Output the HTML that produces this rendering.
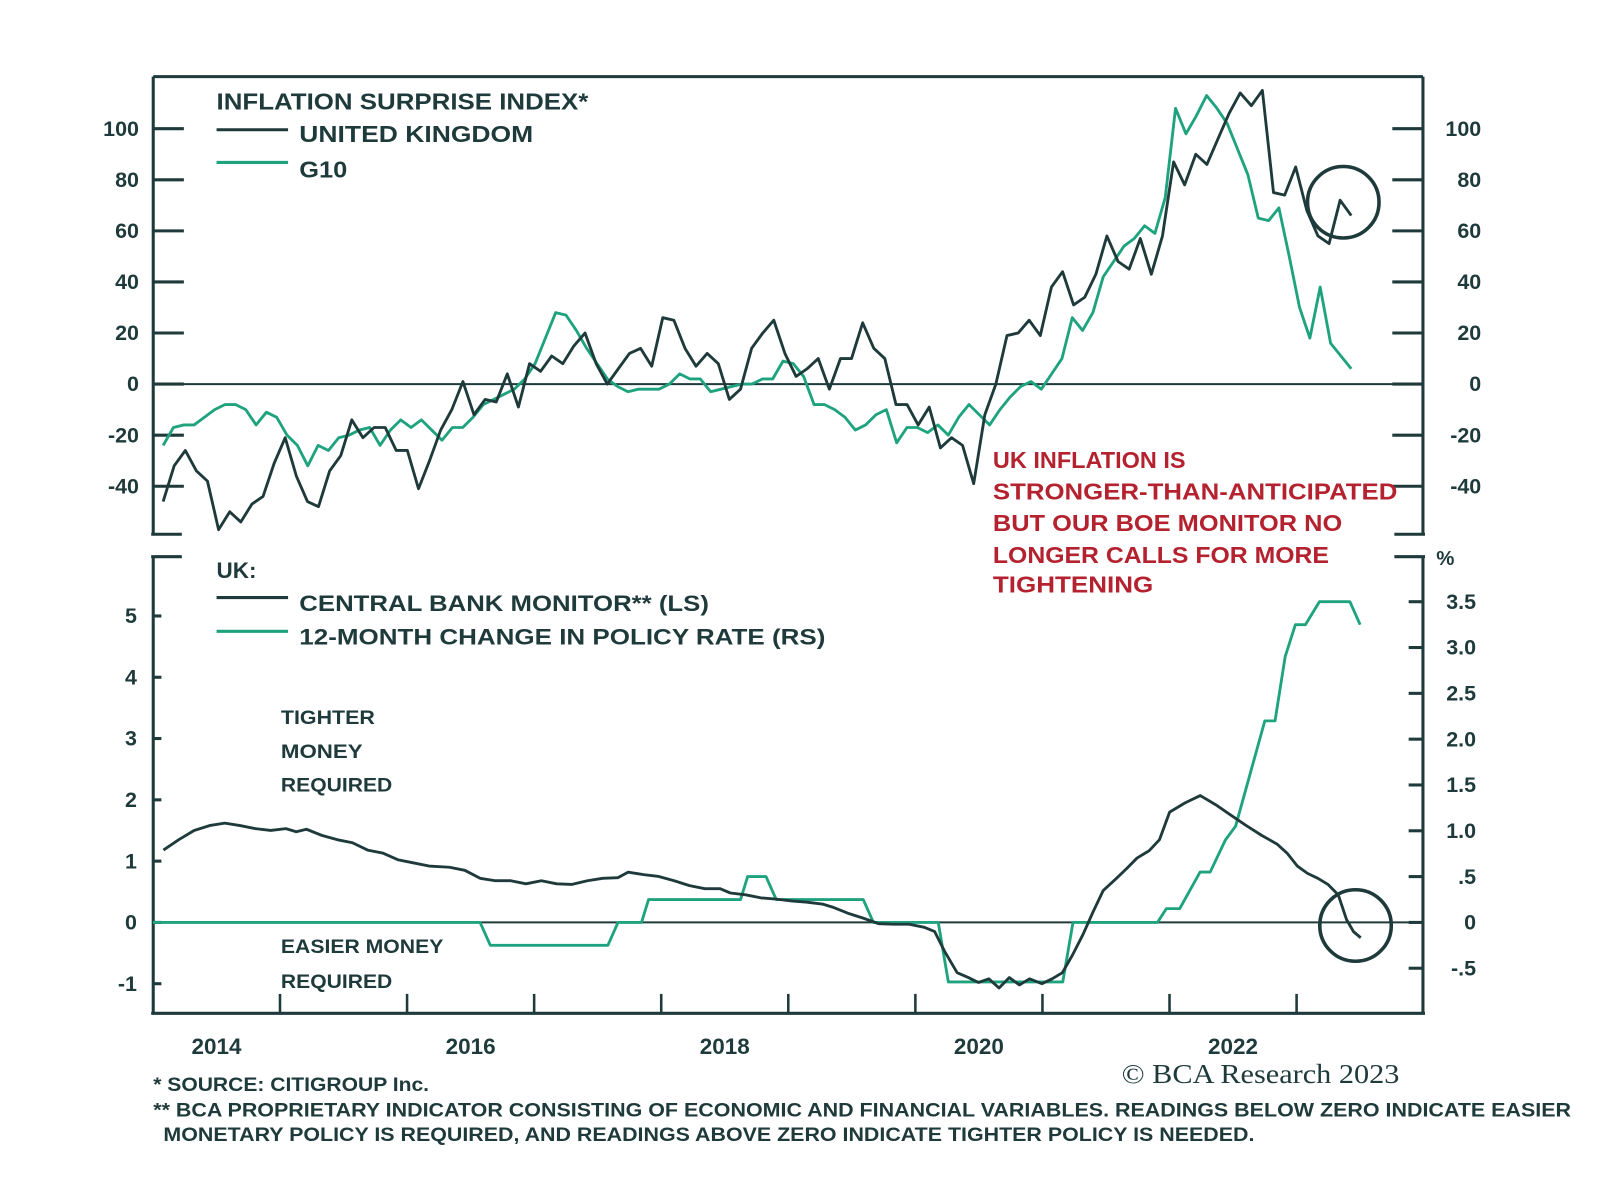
<!DOCTYPE html>
<html><head><meta charset="utf-8"><style>
html,body{margin:0;padding:0;background:#fff;width:1600px;height:1193px;overflow:hidden}
svg text{font-family:"Liberation Sans",sans-serif;font-weight:bold;fill:#1f3a3b}
</style></head><body>
<svg id="chart" width="1600" height="1193" viewBox="0 0 1600 1193" xmlns="http://www.w3.org/2000/svg">
<g id="root" transform="scale(1.0215)">
  <g stroke="#1f3a3b" stroke-width="3" fill="none">
    <line x1="150" y1="75" x2="1393" y2="75"/>
    <line x1="150" y1="75" x2="150" y2="523"/>
    <line x1="1393" y1="75" x2="1393" y2="523"/>
    <line x1="148" y1="523" x2="178" y2="523"/>
    <line x1="1365" y1="523" x2="1395" y2="523"/>
  </g>
  <g stroke="#1f3a3b" stroke-width="3" fill="none">
    <line x1="148" y1="545" x2="178" y2="545"/>
    <line x1="1365" y1="545" x2="1395" y2="545"/>
    <line x1="150" y1="545" x2="150" y2="992"/>
    <line x1="1393" y1="545" x2="1393" y2="992"/>
    <line x1="148" y1="992" x2="1395" y2="992"/>
  </g>
  <g id="axes"></g>
  <g id="series"></g>

  <text x="212" y="107" font-size="23" textLength="364" lengthAdjust="spacingAndGlyphs">INFLATION SURPRISE INDEX*</text>
  <line x1="212" y1="127" x2="282" y2="127" stroke="#1f3a3b" stroke-width="3"/>
  <text x="293" y="139" font-size="23" textLength="229" lengthAdjust="spacingAndGlyphs">UNITED KINGDOM</text>
  <line x1="212" y1="159" x2="282" y2="159" stroke="#1fa37f" stroke-width="3"/>
  <text x="293" y="174" font-size="23" textLength="47" lengthAdjust="spacingAndGlyphs">G10</text>

  <text x="212" y="566" font-size="22">UK:</text>
  <line x1="212" y1="585" x2="282" y2="585" stroke="#1f3a3b" stroke-width="3"/>
  <text x="293" y="598" font-size="22" textLength="401" lengthAdjust="spacingAndGlyphs">CENTRAL BANK MONITOR** (LS)</text>
  <line x1="212" y1="618" x2="282" y2="618" stroke="#1fa37f" stroke-width="3"/>
  <text x="293" y="631" font-size="22" textLength="515" lengthAdjust="spacingAndGlyphs">12-MONTH CHANGE IN POLICY RATE (RS)</text>

  <text font-size="19"><tspan x="275" y="709" textLength="92" lengthAdjust="spacingAndGlyphs">TIGHTER</tspan><tspan x="275" y="742" textLength="80" lengthAdjust="spacingAndGlyphs">MONEY</tspan><tspan x="275" y="775" textLength="109" lengthAdjust="spacingAndGlyphs">REQUIRED</tspan></text>
  <text font-size="19"><tspan x="275" y="933" textLength="159" lengthAdjust="spacingAndGlyphs">EASIER MONEY</tspan><tspan x="275" y="967" textLength="109" lengthAdjust="spacingAndGlyphs">REQUIRED</tspan></text>

  <text font-size="23" style="fill:#b5222f"><tspan x="972" y="458">UK INFLATION IS</tspan><tspan x="972" y="489" textLength="396" lengthAdjust="spacingAndGlyphs">STRONGER-THAN-ANTICIPATED</tspan><tspan x="972" y="520" textLength="342" lengthAdjust="spacingAndGlyphs">BUT OUR BOE MONITOR NO</tspan><tspan x="972" y="551" textLength="329" lengthAdjust="spacingAndGlyphs">LONGER CALLS FOR MORE</tspan><tspan x="972" y="580" textLength="157" lengthAdjust="spacingAndGlyphs">TIGHTENING</tspan></text>

  <text x="1406" y="553" font-size="20">%</text>

  <circle cx="1315" cy="198" r="35" fill="none" stroke="#1f3a3b" stroke-width="3.5"/>
  <circle cx="1327" cy="906" r="35" fill="none" stroke="#1f3a3b" stroke-width="3.5"/>

  <text x="150" y="1068" font-size="19" textLength="270" lengthAdjust="spacingAndGlyphs">* SOURCE: CITIGROUP Inc.</text>
  <text x="150" y="1093" font-size="19" textLength="1388" lengthAdjust="spacingAndGlyphs">** BCA PROPRIETARY INDICATOR CONSISTING OF ECONOMIC AND FINANCIAL VARIABLES. READINGS BELOW ZERO INDICATE EASIER</text>
  <text x="160" y="1117" font-size="19" textLength="1068" lengthAdjust="spacingAndGlyphs">MONETARY POLICY IS REQUIRED, AND READINGS ABOVE ZERO INDICATE TIGHTER POLICY IS NEEDED.</text>
  <text x="1098" y="1060" font-size="27" textLength="272" lengthAdjust="spacingAndGlyphs" style="font-family:'Liberation Serif',serif;font-weight:normal">© BCA Research 2023</text>
</g>
</svg>
<script>
var yearLabels = ["2014","2016","2018","2020","2022"];
var yearTicks = [2015,2016,2017,2018,2019,2020,2021,2022,2023];
var topTicks = [100,80,60,40,20,0,-20,-40];
var leftTicks = [5,4,3,2,1,0,-1];
var rightTicks = [3.5,3.0,2.5,2.0,1.5,1.0,0.5,0,-0.5];
var rightTickLabels = ["3.5","3.0","2.5","2.0","1.5","1.0",".5","0","-.5"];

var ukStart = 2014.08, ukEnd = 2023.43;
var ukValues = [-46,-32,-26,-34,-38,-57,-50,-54,-47,-44,-31,-21,-36,-46,-48,-34,-28,-14,-21,-17,-17,-26,-26,-41,-30,-18,-10,1,-12,-6,-7,4,-9,8,5,11,8,15,20,8,0,6,12,14,7,26,25,14,7,12,8,-6,-2,14,20,25,12,3,6,10,-2,10,10,24,14,10,-8,-8,-16,-9,-25,-21,-24,-39,-12,0,19,20,25,19,38,44,31,34,43,58,48,45,57,43,58,87,78,90,86,96,106,114,109,115,75,74,85,68,58,55,72,66];
var g10Start = 2014.08, g10End = 2023.43;
var g10Values = [-24,-17,-16,-16,-13,-10,-8,-8,-10,-16,-11,-13,-20,-24,-32,-24,-26,-21,-20,-18,-17,-24,-18,-14,-17,-14,-18,-22,-17,-17,-13,-8,-6,-4,-2,2,8,18,28,27,21,14,8,2,-1,-3,-2,-2,-2,0,4,2,2,-3,-2,-1,0,0,2,2,9,8,3,-8,-8,-10,-13,-18,-16,-12,-10,-23,-17,-17,-19,-16,-20,-13,-8,-12,-16,-10,-5,-1,1,-2,4,10,26,21,28,42,48,54,57,62,59,73,108,98,105,113,108,102,92,82,65,64,69,50,30,18,38,16,11,6];

var cbmDates = [0.083,0.203,0.324,0.445,0.565,0.686,0.806,0.927,1.047,1.128,1.208,1.329,1.449,1.570,1.690,1.811,1.932,2.052,2.173,2.334,2.454,2.575,2.695,2.816,2.936,3.057,3.178,3.298,3.419,3.539,3.660,3.740,3.861,3.981,4.102,4.223,4.343,4.464,4.544,4.665,4.785,4.906,5.026,5.147,5.268,5.348,5.469,5.589,5.710,5.830,5.951,6.071,6.152,6.232,6.329,6.417,6.497,6.578,6.658,6.739,6.819,6.899,6.996,7.076,7.157,7.237,7.318,7.398,7.478,7.583,7.663,7.744,7.840,7.921,8.001,8.122,8.242,8.363,8.483,8.604,8.725,8.845,8.925,9.006,9.086,9.167,9.247,9.328,9.392,9.448,9.505];
var cbmValues = [1.18,1.35,1.5,1.58,1.62,1.58,1.53,1.5,1.53,1.48,1.52,1.42,1.35,1.3,1.18,1.13,1.02,0.97,0.92,0.9,0.85,0.72,0.68,0.68,0.63,0.68,0.63,0.62,0.68,0.72,0.73,0.82,0.78,0.75,0.68,0.6,0.55,0.55,0.48,0.45,0.4,0.38,0.35,0.33,0.3,0.25,0.15,0.07,-0.02,-0.03,-0.03,-0.08,-0.15,-0.48,-0.82,-0.9,-0.98,-0.92,-1.07,-0.9,-1.02,-0.92,-1.0,-0.92,-0.82,-0.53,-0.2,0.17,0.52,0.72,0.88,1.05,1.17,1.35,1.8,1.95,2.07,1.92,1.75,1.58,1.42,1.28,1.13,0.92,0.8,0.72,0.62,0.45,0.05,-0.15,-0.25];

var policyDates = [2014.0,2016.575,2016.655,2017.58,2017.66,2017.845,2017.90,2018.625,2018.68,2018.825,2018.905,2019.59,2019.67,2020.18,2020.26,2021.16,2021.24,2021.905,2021.975,2022.08,2022.24,2022.32,2022.44,2022.52,2022.75,2022.83,2022.91,2022.99,2023.07,2023.18,2023.42,2023.5];
var policyValues = [0,0,-0.25,-0.25,0,0,0.25,0.25,0.5,0.5,0.25,0.25,0,0,-0.65,-0.65,0,0,0.15,0.15,0.55,0.55,0.9,1.05,2.2,2.2,2.9,3.25,3.25,3.5,3.5,3.25];

var NS = "http://www.w3.org/2000/svg";
function xS(t){ return 149.7 + (t - 2014) * 124.4; }
function yTop(v){ return 376 - v * 2.5; }
function yL(v){ return 903 - v * 60; }
function yR(v){ return 903 - v * 89.7; }

var axes = document.getElementById('axes');
var series = document.getElementById('series');
function mk(tag, attrs, parent){ var e=document.createElementNS(NS,tag); for(var k in attrs) e.setAttribute(k,attrs[k]); parent.appendChild(e); return e; }

topTicks.forEach(function(v){
  var y=yTop(v);
  var t1=mk('line',{x1:150,y1:y,x2:180,y2:y,stroke:'#1f3a3b','stroke-width':3},axes);
  
  
  var t2=mk('line',{x1:1363,y1:y,x2:1393,y2:y,stroke:'#1f3a3b','stroke-width':3},axes);
  
  
  var l=mk('text',{x:136,y:y+7,'font-size':21,'text-anchor':'end'},axes); l.textContent=String(v);
  
  
  var r=mk('text',{x:1450,y:y+7,'font-size':21,'text-anchor':'end'},axes); r.textContent=String(v);
  
  
});
var z1=mk('line',{x1:150,y1:yTop(0),x2:1393,y2:yTop(0),stroke:'#1f3a3b','stroke-width':2},axes);



leftTicks.forEach(function(v){
  var y=yL(v);
  var t=mk('line',{x1:150,y1:y,x2:158,y2:y,stroke:'#1f3a3b','stroke-width':3},axes);
  
  
  var l=mk('text',{x:134,y:y+7,'font-size':21,'text-anchor':'end'},axes); l.textContent=String(v);
  
  
});
rightTicks.forEach(function(v,i){
  var y=yR(v);
  var t=mk('line',{x1:1379,y1:y,x2:1393,y2:y,stroke:'#1f3a3b','stroke-width':3},axes);
  
  
  var r=mk('text',{x:1445,y:y+7,'font-size':21,'text-anchor':'end'},axes); r.textContent=rightTickLabels[i];
  
  
});
var z2=mk('line',{x1:150,y1:yL(0),x2:1393,y2:yL(0),stroke:'#1f3a3b','stroke-width':2},axes);



yearTicks.forEach(function(t){
  var x=xS(t);
  var e=mk('line',{x1:x,y1:973,x2:x,y2:992,stroke:'#1f3a3b','stroke-width':2.5},axes);
  
  
});
yearLabels.forEach(function(s){
  var x=xS(parseInt(s,10)+0.5);
  var e=mk('text',{x:x,y:1032,'font-size':22,'text-anchor':'middle'},axes); e.textContent=s;
  
  
});

function pts(dates, vals, ys){ return vals.map(function(v,i){ return xS(dates[i]).toFixed(1)+','+ys(v).toFixed(1); }).join(' '); }
function uniform(start,end,n){ var a=[]; for(var i=0;i<n;i++) a.push(start+(end-start)*i/(n-1)); return a; }

var g=mk('polyline',{points:pts(uniform(g10Start,g10End,g10Values.length),g10Values,yTop),fill:'none',stroke:'#1fa37f','stroke-width':2.8,'stroke-linejoin':'round'},series);


var u=mk('polyline',{points:pts(uniform(ukStart,ukEnd,ukValues.length),ukValues,yTop),fill:'none',stroke:'#1f3a3b','stroke-width':2.8,'stroke-linejoin':'round'},series);


var p=mk('polyline',{points:pts(policyDates,policyValues,yR),fill:'none',stroke:'#1fa37f','stroke-width':2.8,'stroke-linejoin':'round'},series);


var c=mk('polyline',{points:pts(cbmDates.map(function(d){return d+2014;}),cbmValues,yL),fill:'none',stroke:'#1f3a3b','stroke-width':2.8,'stroke-linejoin':'round'},series);


</script>
</body></html>
